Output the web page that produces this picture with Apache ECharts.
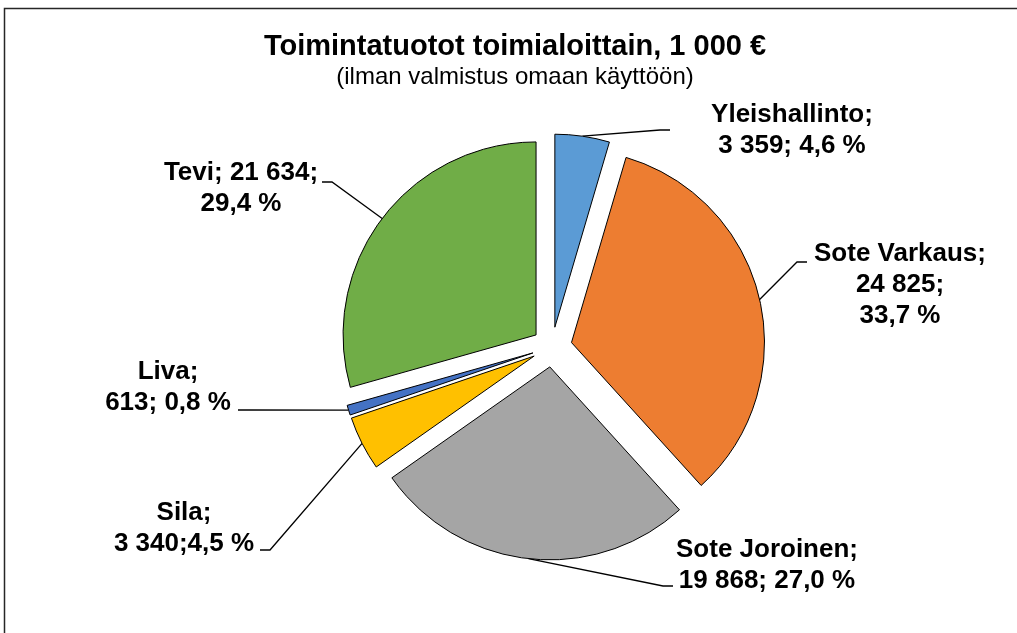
<!DOCTYPE html>
<html>
<head>
<meta charset="utf-8">
<script src="https://cdn.jsdelivr.net/npm/echarts@6/dist/echarts.min.js"></script>
<style>
html,body{margin:0;padding:0;background:#fff;}
#c{width:1017px;height:633px;}
</style>
</head>
<body>
<div id="c"></div>
<script>
const categories = ['Yleishallinto', 'Sote Varkaus', 'Sote Joroinen', 'Sila', 'Liva', 'Tevi'];
const values = [3359, 24825, 19868, 3340, 613, 21634];
const colors = ['#5B9BD5', '#ED7D31', '#A5A5A5', '#FFC000', '#4472C4', '#70AD47'];
// label line breaks between name/value and value/percent
const sepAfterName = ['\n', '\n', '\n', '\n', '\n', ' '];
const sepAfterValue = ['; ', ';\n', '; ', ';', '; ', ';\n'];
// label block centres (layout)
const labelX = [792, 900, 767, 184, 168, 241];
const labelY = [130, 285, 565, 528, 387, 188];
// where the leader line meets the label, relative to the label centre (layout)
const lineEndDx = [-122, -93, -94, 76, 70, 81];
const lineEndDy = [0, -23, 21, 22, 23, -6];

const PIE_R = 193;
const EXPLODE = 20;
const CENTER = [552, 347];

function fmtThousands(v) {
  return String(v).replace(/\B(?=(\d{3})+(?!\d))/g, ' ');
}

const chart = echarts.init(document.getElementById('c'), null, {renderer: 'canvas'});
const FONT = '"Liberation Sans", Arial, sans-serif';

const dataA = categories.map(function (n, i) {
  return {name: n, value: values[i], selected: true, itemStyle: {color: colors[i]}};
});
const dataB = categories.map(function (n, i) {
  return {name: n, value: values[i]};
});

chart.setOption({
  animation: false,
  graphic: [
    {type: 'rect', shape: {x: 4.5, y: 8.5, width: 1200, height: 800},
     style: {fill: 'none', stroke: '#262626', lineWidth: 1.5}, z: -10},
    {type: 'text', x: 515, y: 47, style: {text: 'Toimintatuotot toimialoittain, 1 000 €',
      font: 'bold 29px ' + FONT, fill: '#000', textAlign: 'center', textVerticalAlign: 'middle'}},
    {type: 'text', x: 515, y: 77, style: {text: '(ilman valmistus omaan käyttöön)',
      font: '24px ' + FONT, fill: '#000', textAlign: 'center', textVerticalAlign: 'middle'}}
  ],
  series: [{
    // the exploded slices
    type: 'pie',
    center: CENTER,
    radius: PIE_R,
    startAngle: 90,
    clockwise: true,
    selectedMode: 'multiple',
    selectedOffset: EXPLODE,
    silent: true,
    itemStyle: {borderColor: '#000', borderWidth: 1},
    select: {itemStyle: {borderColor: '#000', borderWidth: 1}},
    emphasis: {disabled: true},
    label: {show: false},
    labelLine: {show: false},
    data: dataA
  }, {
    // invisible ring at the exploded outer edge carrying the labels
    type: 'pie',
    center: CENTER,
    radius: PIE_R + EXPLODE,
    startAngle: 90,
    clockwise: true,
    silent: true,
    avoidLabelOverlap: false,
    itemStyle: {color: 'rgba(0,0,0,0)', borderWidth: 0},
    emphasis: {disabled: true},
    label: {
      show: true,
      position: 'outside',
      fontFamily: FONT,
      fontWeight: 'bold',
      fontSize: 26,
      lineHeight: 31,
      color: '#000',
      align: 'center',
      formatter: function (p) {
        const i = p.dataIndex;
        return p.name + ';' + sepAfterName[i] + fmtThousands(p.value) + sepAfterValue[i] +
          p.percent.toFixed(1).replace('.', ',') + ' %';
      }
    },
    labelLine: {show: true, length: 20, length2: 10, smooth: false,
      lineStyle: {color: '#000', width: 1.3}},
    labelLayout: function (params) {
      const i = params.dataIndex;
      const ex = labelX[i] + lineEndDx[i];
      const ey = labelY[i] + lineEndDy[i];
      const side = lineEndDx[i] < 0 ? -1 : 1;
      const res = {x: labelX[i], y: labelY[i], align: 'center', verticalAlign: 'middle'};
      if (params.labelLinePoints && params.labelLinePoints[0]) {
        res.labelLinePoints = [params.labelLinePoints[0].slice(), [ex + side * 10, ey], [ex, ey]];
      }
      return res;
    },
    data: dataB
  }]
});
</script>
</body>
</html>
